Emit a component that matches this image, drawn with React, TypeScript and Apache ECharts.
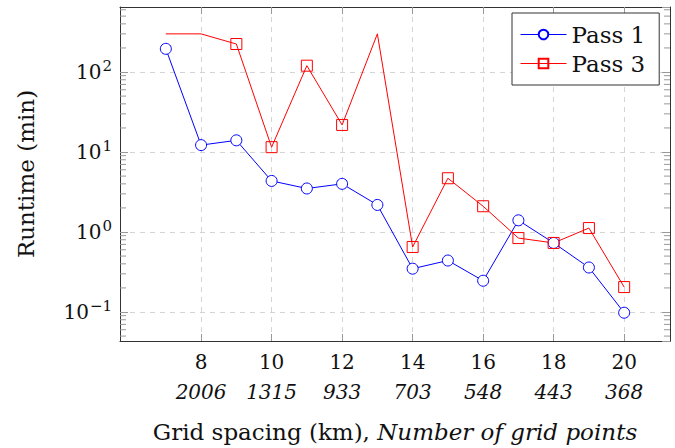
import React, { useEffect, useRef } from 'react';
import * as echarts from 'echarts';

const gridSpacing = [7, 8, 9, 10, 11, 12, 13, 14, 15, 16, 17, 18, 19, 20];
const pass1 = [195, 12.2, 14, 4.35, 3.5, 4.0, 2.18, 0.348, 0.44, 0.246, 1.4, 0.73, 0.36, 0.098];
const pass3 = [300, 300, 224, 11.5, 120, 21.8, 300, 0.65, 4.7, 2.1, 0.84, 0.73, 1.12, 0.205];
const pass3Marked = [false, false, true, true, true, true, false, true, true, true, true, true, true, true];
const xTicks = [8, 10, 12, 14, 16, 18, 20];
const gridPointLabels = ['2006', '1315', '933', '703', '548', '443', '368'];
const minorTicks = [
  0.05, 0.06, 0.07, 0.08, 0.09,
  0.2, 0.3, 0.4, 0.5, 0.6, 0.7, 0.8, 0.9,
  2, 3, 4, 5, 6, 7, 8, 9,
  20, 30, 40, 50, 60, 70, 80, 90,
  200, 300, 400, 500, 600,
];

const FONT = "'DejaVu Serif', serif";
const X_MIN = 5.7;
const X_MAX = 21.3;
const Y_MIN = 0.0434;
const Y_MAX = 650;
const TICK = '#999';
const FRAME = '#333';
const FS = 23;
const TFS = 20;

export default function App() {
  const ref = useRef<HTMLDivElement>(null);
  useEffect(() => {
    const chart = echarts.init(ref.current!, null, { renderer: 'svg' });
    const yLabel = (v: number) => {
      const l = Math.log10(v);
      const e = Math.round(l);
      if (Math.abs(l - e) > 0.01) return '';
      return `{b|10}{s|${e < 0 ? '\u2212' + -e : e}}`;
    };
    const xLabel = (v: number) => {
      const i = xTicks.indexOf(v);
      if (i < 0) return '';
      return `{n|${v}}\n{i|${gridPointLabels[i]}}`;
    };
    const txt = { fontFamily: FONT, fontSize: FS, color: '#111' };
    chart.setOption({
      animation: false,
      textStyle: { fontFamily: FONT },
      grid: { left: 120, top: 7, width: 550, height: 334 },
      legend: {
        orient: 'vertical',
        left: 512,
        top: 13,
        padding: [10, 14, 10, 8],
        borderColor: FRAME,
        borderWidth: 1,
        backgroundColor: '#fff',
        itemWidth: 46,
        itemHeight: 12,
        itemGap: 6,
        lineStyle: { width: 1 },
        formatter: (n: string) => `{t|${n}}`,
        textStyle: {
          fontFamily: FONT,
          fontSize: FS,
          color: '#111',
          rich: { t: { ...txt, lineHeight: 26 } },
        },
        data: ['Pass 1', 'Pass 3'],
      },
      xAxis: [
        {
          type: 'value',
          min: X_MIN,
          max: X_MAX,
          name: '{a|Grid spacing (km),\u00a0}{i|Number of grid points}',
          nameLocation: 'middle',
          nameGap: 79,
          nameTextStyle: {
            rich: {
              a: { ...txt },
              i: { ...txt, fontStyle: 'italic' },
            },
          },
          axisLine: { show: true, onZero: false, lineStyle: { color: FRAME, width: 1 } },
          axisTick: { show: true, inside: true, length: 7, customValues: xTicks, lineStyle: { color: TICK } },
          axisLabel: {
            customValues: xTicks,
            formatter: xLabel,
            margin: 6,
            rich: {
              n: { ...txt, fontSize: TFS, lineHeight: 30 },
              i: { ...txt, fontSize: TFS, fontStyle: 'italic', lineHeight: 30 },
            },
          },
          splitLine: { show: true, lineStyle: { color: '#d4d4d4', type: [5, 5], width: 1 } },
        },
        {
          type: 'value',
          position: 'top',
          min: X_MIN,
          max: X_MAX,
          axisLine: { show: true, onZero: false, lineStyle: { color: FRAME, width: 1 } },
          axisTick: { show: true, inside: true, length: 7, customValues: xTicks, lineStyle: { color: TICK } },
          axisLabel: { show: false },
          splitLine: { show: false },
        },
      ],
      yAxis: [
        {
          type: 'log',
          logBase: 10,
          min: Y_MIN,
          max: Y_MAX,
          name: '{r|Runtime (min)}',
          nameLocation: 'middle',
          nameGap: 83,
          nameTextStyle: { rich: { r: { ...txt } } },
          axisLine: { show: true, onZero: false, lineStyle: { color: FRAME, width: 1 } },
          axisTick: { show: true, inside: true, length: 8, lineStyle: { color: TICK } },
          axisLabel: {
            formatter: yLabel,
            margin: 8,
            showMinLabel: false,
            showMaxLabel: false,
            rich: {
              b: { ...txt, fontSize: TFS },
              s: { ...txt, fontSize: 15, padding: [0, 0, 13, 1] },
            },
          },
          splitLine: { show: true, lineStyle: { color: '#d4d4d4', type: [5, 5], width: 1 } },
        },
        {
          type: 'log',
          logBase: 10,
          position: 'right',
          min: Y_MIN,
          max: Y_MAX,
          axisLine: { show: true, onZero: false, lineStyle: { color: FRAME, width: 1 } },
          axisTick: { show: true, inside: true, length: 8, lineStyle: { color: TICK } },
          axisLabel: { show: false },
          splitLine: { show: false },
        },
      ],
      series: [
        {
          type: 'custom',
          silent: true,
          clip: false,
          z: 1,
          data: minorTicks.map((v) => [10, v]),
          renderItem: (params: any, api: any) => {
            const cs = params.coordSys;
            const y = api.coord([10, api.value(1)])[1];
            const style = { stroke: TICK, lineWidth: 1 };
            return {
              type: 'group',
              children: [
                { type: 'line', shape: { x1: cs.x, y1: y, x2: cs.x + 6, y2: y }, style },
                { type: 'line', shape: { x1: cs.x + cs.width - 6, y1: y, x2: cs.x + cs.width, y2: y }, style },
              ],
            };
          },
        },
        {
          name: 'Pass 1',
          type: 'line',
          data: gridSpacing.map((x, i) => [x, pass1[i]]),
          symbol: 'circle',
          symbolSize: 11,
          showAllSymbol: true,
          lineStyle: { color: '#0000ff', width: 1 },
          itemStyle: { color: '#fff', borderColor: '#0000ff', borderWidth: 1 },
          z: 3,
        },
        {
          name: 'Pass 3',
          type: 'line',
          data: gridSpacing.map((x, i) =>
            pass3Marked[i] ? { value: [x, pass3[i]] } : { value: [x, pass3[i]], symbol: 'none' }
          ),
          symbol: 'rect',
          symbolSize: 11,
          showAllSymbol: true,
          lineStyle: { color: '#ff0000', width: 1 },
          itemStyle: { color: 'rgba(255,255,255,0)', borderColor: '#ff0000', borderWidth: 1 },
          z: 3,
        },
      ],
    });
    return () => chart.dispose();
  }, []);
  return <div ref={ref} style={{ position: 'absolute', left: 0, top: 0, width: 675, height: 448 }} />;
}
